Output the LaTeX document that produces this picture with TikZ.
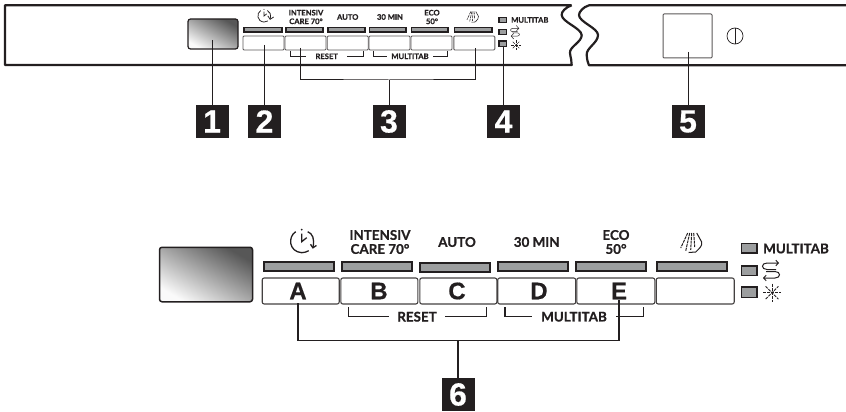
\documentclass[tikz,border=0pt]{standalone}
\usepackage{fontspec}
\setmainfont{Lato}[BoldFeatures={FakeBold=.7}]
\newfontfamily\keyfont{Liberation Sans}[BoldFeatures={FakeBold=.5}]
\usetikzlibrary{arrows.meta}

\definecolor{ink}{HTML}{231F20}
\definecolor{barfill}{HTML}{9C9E9F}

\tikzset{
  panel/.style={draw=ink,line width=2.2pt,line join=round},
  leader/.style={draw=ink,line width=1pt},
  bracket/.style={draw=ink,line width=.9pt},
  bar/.style={draw=ink,fill=barfill,line width=1.3pt},
  smallkey/.style={draw=ink!75,line width=.9pt,rounded corners=1pt,inner sep=0pt},
  bigkey/.style={draw=ink!85,line width=1.1pt,rounded corners=2pt,inner sep=0pt,minimum height=26pt},
  keyletter/.style={text=ink,inner sep=0pt,font=\keyfont\fontsize{24}{24}\selectfont\bfseries},
  badge/.style={fill=ink,text=white,inner sep=0pt,minimum size=33pt,
    font=\keyfont\fontsize{32}{32}\selectfont\bfseries},
  smalltext/.style={text=ink,inner sep=0pt,align=center,
    font=\fontsize{7.6}{8.6}\selectfont\bfseries},
  bigtext/.style={text=ink,inner sep=0pt,align=center,
    font=\fontsize{13.4}{14}\selectfont\bfseries},
  screen/.style={draw=ink,line width=1.2pt,rounded corners=2.5pt,inner sep=0pt,
    left color=black!2,right color=black!66,shading angle=150},
  clockpic/.pic={
    \draw[ink] (-6,-10) .. controls (-14,-5) and (-13,10) .. (0,11)
      .. controls (3,11) and (5,10) .. (7,9);
    \draw[ink,-{Straight Barb[length=3pt,width=6pt]}] (6,-10) .. controls (11,-8) and (13,-3) .. (11,7);
    \draw[ink] (0,-8) -- (0,0) -- (5,-4);
    \fill[ink] (0,-12) circle (1);
  },
  spraypic/.pic={
    \draw[ink,dash pattern=on 3pt off .8pt] (-4,-10) -- (-11,5);
    \draw[ink,dash pattern=on 3pt off .8pt] (-2,-10) -- (-6,8);
    \draw[ink,dash pattern=on 3pt off .8pt] (0,-10) -- (-1,7);
    \draw[ink,dash pattern=on 3pt off .8pt] (2,-10) -- (3,4);
    \draw[ink] (5,-10) -- (10,-1) .. controls (11,3) and (7,6) .. (4,9) -- (-3,9.5);
  },
  swappic/.pic={
    \draw[ink,-{Straight Barb[length=2.5pt,width=5.5pt]}] (5,-.5) -- (-4,-.5) .. controls (-10,-.5) and (-10,-7) .. (-4,-7) -- (8,-7);
    \draw[ink,-{Straight Barb[length=2.5pt,width=5.5pt]}] (-5,1.5) -- (4,1.5) .. controls (10,1.5) and (10,8) .. (4,8) -- (-8,8);
  },
  sunpic/.pic={
    \draw[ink,dash pattern=on 3pt off 1pt] (-9,0) -- (9,0);
    \draw[ink,dash pattern=on 3pt off 1pt] (0,-9) -- (0,9);
    \draw[ink,dash pattern=on 3pt off 1pt] (-6.4,-6.4) -- (6.4,6.4);
    \draw[ink,dash pattern=on 3pt off 1pt] (-6.4,6.4) -- (6.4,-6.4);
  },
}

\begin{document}
\begin{tikzpicture}[x=1pt,y=-1pt]
    \useasboundingbox (0,0) rectangle (846,412);

    % ------ upper panel -----------
    \draw[panel] (571.7,5.3) -- (5,5.3) -- (5,65) -- (571.7,65)
      .. controls (572,61) and (570.5,58) .. (570,53)
      .. controls (569,47) and (582,42) .. (581.7,35)
      .. controls (581,28) and (562,22) .. (561.7,15)
      .. controls (561,12) and (566,7) .. (571.7,5.3);
    \draw[panel] (846,5.3) -- (589,5.3)
      .. controls (583,7) and (579,12) .. (579,15)
      .. controls (579,22) and (598,28) .. (598,35)
      .. controls (598,43) and (586,48) .. (586.7,55)
      .. controls (587,60) and (588,63) .. (589,65.3) -- (846,65.3);

    \node[screen,minimum width=50pt,minimum height=30pt] (S1) at (213,34) {};

    \draw[bar] (244,27.3) rectangle (282,32);
    \draw[bar] (286,27.3) rectangle (323,32);
    \draw[bar] (328,27.8) rectangle (365,32);
    \draw[bar] (369.5,27.3) rectangle (406,32);
    \draw[bar] (411.5,27.3) rectangle (448,32);
    \draw[bar] (454.5,27.3) rectangle (492,32);

    \node[smallkey,minimum width=41pt,minimum height=14pt] (K1) at (263.5,43) {};
    \node[smallkey,minimum width=41pt,minimum height=14pt] (K2) at (305.5,43) {};
    \node[smallkey,minimum width=41pt,minimum height=14pt] (K3) at (347.7,43) {};
    \node[smallkey,minimum width=41pt,minimum height=14pt] (K4) at (389.5,43) {};
    \node[smallkey,minimum width=41pt,minimum height=14pt] (K5) at (431.5,43) {};
    \node[smallkey,minimum width=41pt,minimum height=14pt] (K6) at (474.3,43) {};

    \pic[line width=.75pt,scale=.55] at (264,16) {clockpic};
    \node[smalltext] (T1) at (306,17) {INTENSIV\\CARE 70°};
    \node[smalltext] (T2) at (347.7,17) {AUTO};
    \node[smalltext] (T3) at (390,17) {30 MIN};
    \node[smalltext] (T4) at (432,17) {ECO\\50°};
    \pic[line width=.55pt,scale=.55] at (473,17) {spraypic};

    \node[smalltext,inner xsep=9pt] (T5) at (326.7,56.3) {RESET};
    \node[smalltext,inner xsep=4.5pt] (T6) at (410,56.3) {MULTITAB};
    \coordinate (R1) at (290,51);
    \coordinate (R2) at (363,51);
    \coordinate (R3) at (373,51);
    \coordinate (R4) at (447,51);
    \draw[bracket] (R1) |- (T5);
    \draw[bracket] (R2) |- (T5);
    \draw[bracket] (R3) |- (T6);
    \draw[bracket] (R4) |- (T6);

    \draw[bar,line width=1.1pt] (499,17.7) rectangle (506.7,22.3);
    \draw[bar,line width=1.1pt] (499,29.7) rectangle (506.7,34.3);
    \draw[bar,line width=1.1pt] (499,41) rectangle (506.7,46.7);
    \node[smalltext,anchor=west] (T7) at (511,20) {MULTITAB};
    \pic[line width=.5pt,scale=.52] at (515,32) {swappic};
    \pic[line width=.4pt,scale=.52] at (516,45) {sunpic};

    \node[smallkey,line width=1pt,minimum width=49pt,minimum height=44pt] (K7) at (687.5,36) {};
    \draw[ink,line width=.7pt] (735,36) circle (8);
    \draw[ink,line width=.7pt] (735,28) -- (735,44);

    \node[badge] (N1) at (212,121.5) {1};
    \node[badge] (N2) at (264.5,121.5) {2};
    \node[badge] (N3) at (389,121.5) {3};
    \node[badge] (N4) at (503.5,121.5) {4};
    \node[badge] (N5) at (688,121.5) {5};

    \coordinate (C1) at (212,40);
    \coordinate (C2) at (264.5,45);
    \coordinate (C3) at (300.7,48);
    \coordinate (C4) at (475,48);
    \coordinate (C5) at (389,80);
    \coordinate (C6) at (503.5,46);
    \coordinate (C7) at (688,52);
    \draw[leader] (C1) -- (N1);
    \draw[leader] (C2) -- (N2);
    \draw[leader] (C3) |- (C5) -| (C4);
    \draw[leader] (C5) -- (N3);
    \draw[leader] (C6) -- (N4);
    \draw[leader] (C7) -- (N5);

    % ------ lower panel -----------
    \node[screen,line width=1.5pt,minimum width=93pt,minimum height=54.5pt] (S2) at (206,274.5) {};

    \draw[bar,line width=1.8pt] (264,261.8) rectangle (334,271.3);
    \draw[bar,line width=1.8pt] (341.7,261.8) rectangle (411.7,271.3);
    \draw[bar,line width=1.8pt] (420,263) rectangle (490,272);
    \draw[bar,line width=1.8pt] (497.7,261.8) rectangle (567.7,271.3);
    \draw[bar,line width=1.8pt] (576,261.8) rectangle (646,271.3);
    \draw[bar,line width=1.8pt] (657,261.8) rectangle (727,271.3);

    \node[bigkey,minimum width=77pt] (L1) at (300.7,291) {};
    \node[bigkey,minimum width=77pt] (L2) at (379.3,291) {};
    \node[bigkey,minimum width=77pt] (L3) at (458.3,291) {};
    \node[bigkey,minimum width=78pt] (L4) at (536.7,291) {};
    \node[bigkey,minimum width=78pt] (L5) at (615.8,291) {};
    \node[bigkey,minimum width=78pt] (L6) at (695.2,291) {};
    \node[keyletter] (A) at (298,291) {A};
    \node[keyletter] (B) at (379,291) {B};
    \node[keyletter] (C) at (457,291) {C};
    \node[keyletter] (D) at (539,291) {D};
    \node[keyletter] (E) at (619,291) {E};

    \pic[line width=1.3pt] at (301.7,241.7) {clockpic};
    \node[bigtext] (U1) at (380,242) {INTENSIV\\CARE 70°};
    \node[bigtext] (U2) at (457,242) {AUTO};
    \node[bigtext] (U3) at (536.7,242) {30 MIN};
    \node[bigtext] (U4) at (616,242) {ECO\\50°};
    \pic[line width=1pt] at (691.7,243) {spraypic};

    \node[bigtext,inner xsep=8pt] (U5) at (417,316.7) {RESET};
    \node[bigtext,inner xsep=9pt] (U6) at (574,316.7) {MULTITAB};
    \coordinate (Q1) at (348.3,307);
    \coordinate (Q2) at (486.7,307);
    \coordinate (Q3) at (505,307);
    \coordinate (Q4) at (643.3,307);
    \draw[bracket,line width=1.1pt] (Q1) |- (U5);
    \draw[bracket,line width=1.1pt] (Q2) |- (U5);
    \draw[bracket,line width=1.1pt] (Q3) |- (U6);
    \draw[bracket,line width=1.1pt] (Q4) |- (U6);

    \draw[bar,line width=1.7pt] (741.5,243.5) rectangle (757,253);
    \draw[bar,line width=1.7pt] (741.5,266) rectangle (757,275.5);
    \draw[bar,line width=1.7pt] (741.5,287) rectangle (757,297.5);
    \node[bigtext,anchor=west] (U7) at (763,248.5) {MULTITAB};
    \pic[line width=1pt] at (771,270) {swappic};
    \pic[line width=.8pt] at (772,292.7) {sunpic};

    \node[badge] (N6) at (458,394.5) {6};

    \coordinate (D1) at (298,303);
    \coordinate (D2) at (619,300);
    \coordinate (D3) at (458,340.7);
    \draw[leader,line width=1.1pt] (D1) |- (D3) -| (D2);
    \draw[leader,line width=1.1pt] (D3) -- (N6);
\end{tikzpicture}
\end{document}
